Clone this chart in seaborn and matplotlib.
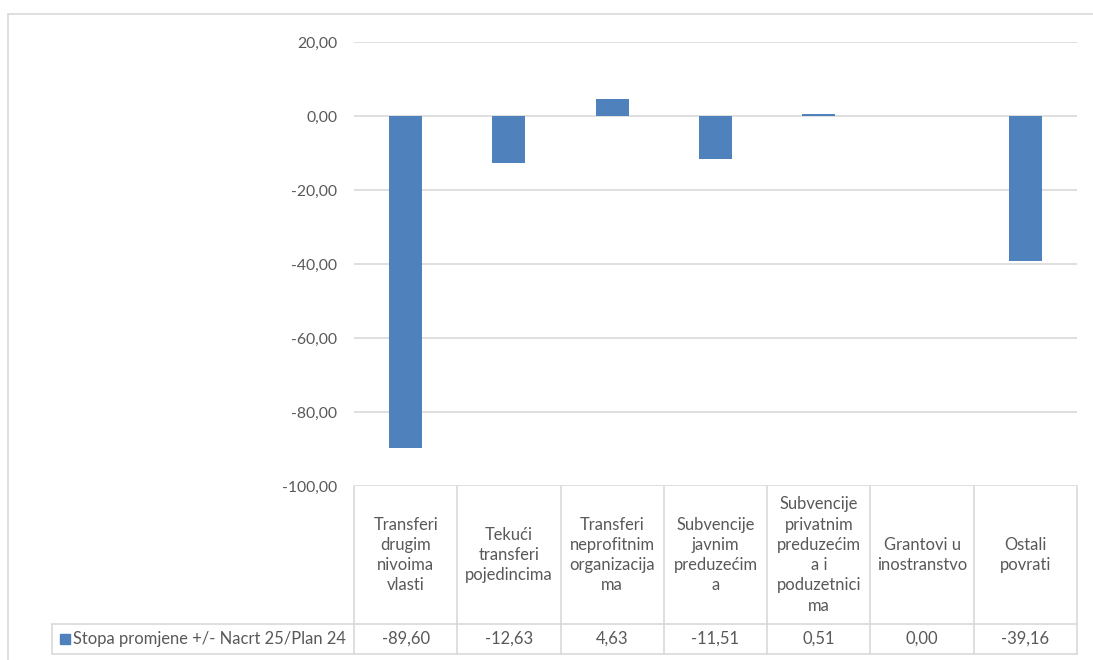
import matplotlib
matplotlib.use("Agg")
import matplotlib.pyplot as plt
import matplotlib.patches as mpatches
from matplotlib.ticker import FuncFormatter
import pandas as pd
import seaborn as sns

# data
categories = [
    "Transferi\ndrugim\nnivoima\nvlasti",
    "Tekući\ntransferi\npojedincima",
    "Transferi\nneprofitnim\norganizacija\nma",
    "Subvencije\njavnim\npreduzećim\na",
    "Subvencije\nprivatnim\npreduzećim\na i\npoduzetnici\nma",
    "Grantovi u\ninostranstvo",
    "Ostali\npovrati",
]
values = [-89.60, -12.63, 4.63, -11.51, 0.51, 0.00, -39.16]
series_name = "Stopa promjene +/- Nacrt 25/Plan 24"
y_ticks = [20, 0, -20, -40, -60, -80, -100]

BLUE = "#4F81BD"
GRID = "#D9D9D9"
TXT = "#595959"
FS_AX = 11.3   # y tick labels
FS = 11.9      # data table text


def fmt(v):
    return f"{v:.2f}".replace(".", ",")


sns.set_theme(style="white")
plt.rcParams["font.family"] = ["Lato", "DejaVu Sans"]

W, H = 1093, 660
fig = plt.figure(figsize=(W / 100, H / 100), dpi=100)

# pixel layout
px_left, px_right = 354, 1077
px_top, px_axis = 42, 486
px_row, px_bottom = 624, 654
px_leg = 52


def fx(p):
    return p / W


def fy(p):
    return 1 - p / H


ax = fig.add_axes([fx(px_left), fy(px_axis), fx(px_right - px_left), (px_axis - px_top) / H])
df = pd.DataFrame({"cat": categories, "val": values})
sns.barplot(data=df, x="cat", y="val", color=BLUE, saturation=1, width=0.32,
            linewidth=0, ax=ax, zorder=3)
ax.set_ylim(min(y_ticks), max(y_ticks))
ax.set_xlim(-0.5, len(categories) - 0.5)
ax.set_yticks(y_ticks)
ax.yaxis.set_major_formatter(FuncFormatter(lambda v, _: fmt(v)))
for t in y_ticks:
    ax.axhline(t, color=GRID, lw=1.2, zorder=1)
ax.tick_params(axis="y", length=0, pad=12, labelsize=FS_AX, labelcolor=TXT)
ax.tick_params(axis="x", length=0, labelbottom=False)
ax.set_xlabel("")
ax.set_ylabel("")
for s in ax.spines.values():
    s.set_visible(False)

# data table under the plot, in pixel coordinates
tab = fig.add_axes([0, 0, 1, 1], facecolor="none")
tab.set_xlim(0, W)
tab.set_ylim(H, 0)
tab.axis("off")

n = len(categories)
col_w = (px_right - px_left) / n
edges = [px_left + i * col_w for i in range(n + 1)]
lk = dict(color=GRID, lw=1.2)
for e in edges:
    tab.plot([e, e], [px_axis, px_bottom], **lk)
tab.plot([px_leg, px_right], [px_row, px_row], **lk)
tab.plot([px_leg, px_right], [px_bottom, px_bottom], **lk)
tab.plot([px_leg, px_leg], [px_row, px_bottom], **lk)

for i, (c, v) in enumerate(zip(categories, values)):
    xc = (edges[i] + edges[i + 1]) / 2
    tab.text(xc, (px_axis + px_row) / 2, c, ha="center", va="center",
             fontsize=FS, color=TXT, linespacing=1.33)
    tab.text(xc, (px_row + px_bottom) / 2, fmt(v), ha="center", va="center",
             fontsize=FS, color=TXT)

tab.add_patch(mpatches.Rectangle((60, 634), 10, 10, color=BLUE))
tab.text(73, (px_row + px_bottom) / 2, series_name, ha="left", va="center",
         fontsize=FS, color=TXT)

# outer chart frame
tab.plot([8, 8], [14, H], **lk)
tab.plot([8, W], [14, 14], **lk)

fig.savefig("out.png", dpi=100)
